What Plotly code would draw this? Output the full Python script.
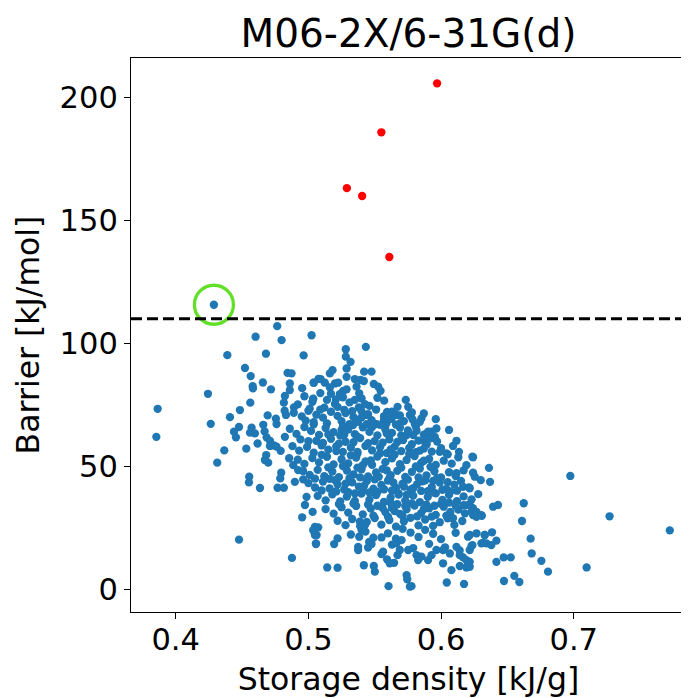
import plotly.graph_objects as go

title_text = "M06-2X/6-31G(d)"
x_label = "Storage density [kJ/g]"
y_label = "Barrier [kJ/mol]"
x_ticks = [0.4, 0.5, 0.6, 0.7]
y_ticks = [0, 50, 100, 150, 200]
threshold_barrier = 110

# points above the threshold (red)
red_density = [0.597, 0.555, 0.529, 0.5405, 0.561]
red_barrier = [205.7, 185.8, 163.1, 159.9, 135.1]

# highlighted point (circled)
highlight_density = 0.4288
highlight_barrier = 115.7

# blue points: (storage density, barrier)
blue_sparse = [
    (0.4288, 115.7), (0.4765, 107.0), (0.4602, 102.7), (0.4798, 101.3), (0.5024, 103.3),
    (0.4389, 95.2), (0.468, 95.8), (0.4964, 95.1), (0.4522, 90.0), (0.4565, 86.7),
    (0.4843, 88.0), (0.4873, 87.8), (0.4657, 84.1), (0.458, 82.6), (0.4582, 81.7),
    (0.4718, 81.3), (0.486, 83.7), (0.486, 81.0), (0.4953, 81.8), (0.5039, 84.0),
    (0.5077, 85.6), (0.4243, 79.5), (0.4823, 78.6), (0.4815, 75.9), (0.5036, 77.5),
    (0.3864, 73.4), (0.4562, 75.9), (0.4484, 72.9), (0.4409, 70.0), (0.4264, 67.3),
    (0.3854, 62.0), (0.4693, 70.7), (0.4891, 74.0), (0.4821, 72.6), (0.4831, 70.9),
    (0.4755, 69.4), (0.476, 67.2), (0.466, 66.9), (0.4477, 66.0), (0.4439, 64.1),
    (0.4454, 61.8), (0.4572, 65.7), (0.456, 63.7), (0.4597, 63.4), (0.467, 64.2),
    (0.4685, 61.8), (0.471, 60.4), (0.4617, 59.3), (0.4532, 57.2), (0.4366, 56.5),
    (0.474, 58.5), (0.4791, 56.3), (0.4823, 62.0), (0.4313, 51.5), (0.4682, 54.6),
    (0.4672, 52.6), (0.4697, 51.5), (0.4554, 45.8), (0.4552, 43.5), (0.4635, 41.2),
    (0.4768, 41.3), (0.4815, 41.3), (0.4795, 47.4), (0.4788, 45.1), (0.4898, 43.7),
    (0.4961, 44.7), (0.4855, 53.3), (0.4886, 50.5), (0.4923, 48.5), (0.4986, 37.6),
    (0.4974, 34.3), (0.5032, 31.5), (0.4953, 29.3), (0.5049, 25.4), (0.5044, 23.4),
    (0.5062, 22.1), (0.5057, 18.4), (0.4477, 20.2), (0.4876, 12.8), (0.471, 58.3),
    (0.476, 58.0),
]

blue_upper = [
    (0.5433, 98.6), (0.5282, 97.6), (0.5282, 94.6), (0.5318, 92.5), (0.5288, 89.8),
    (0.5182, 89.1), (0.5162, 87.8), (0.542, 88.5), (0.5476, 88.5), (0.5288, 86.4),
    (0.5092, 85.5), (0.5041, 84.0), (0.5124, 84.0), (0.52, 83.7), (0.5162, 82.1),
    (0.5224, 84.0), (0.535, 85.5), (0.5393, 85.1), (0.5418, 84.7), (0.5493, 83.5),
    (0.5526, 82.4), (0.5544, 80.7), (0.5363, 82.4), (0.5383, 79.7), (0.5401, 77.6),
    (0.5426, 75.3), (0.5262, 80.7), (0.5288, 81.3), (0.5237, 79.4), (0.5207, 77.2),
    (0.5036, 77.4), (0.5571, 76.7), (0.5734, 77.0), (0.5672, 74.2), (0.5752, 74.2),
    (0.5593, 72.1), (0.5765, 70.9), (0.5785, 69.1), (0.5802, 67.2), (0.587, 71.5),
    (0.5852, 69.5), (0.584, 68.1), (0.596, 69.2), (0.606, 64.8), (0.5965, 65.4),
    (0.5928, 64.1), (0.5902, 64.1), (0.6116, 60.4), (0.609, 58.3), (0.5953, 62.0),
    (0.5877, 60.0), (0.589, 59.1), (0.6135, 55.9), (0.6236, 53.9), (0.604, 55.3),
    (0.599, 55.9), (0.5664, 70.9), (0.5626, 69.3), (0.5589, 67.5), (0.5815, 64.5),
    (0.579, 62.7), (0.5689, 67.5), (0.574, 62.7), (0.5714, 60.7), (0.5438, 70.9),
    (0.5401, 69.9), (0.5476, 68.8), (0.5514, 67.2), (0.5569, 68.8), (0.5375, 68.1),
    (0.5337, 66.8), (0.5288, 65.0), (0.525, 64.8),
]

blue_lower = [
    (0.5142, 8.9), (0.5220, 8.8), (0.5418, 9.8), (0.5493, 9.5), (0.5501, 7.2),
    (0.5604, 1.3), (0.574, 5.8), (0.5745, 4.1), (0.5765, 1.1), (0.5777, 1.3),
    (0.6043, 2.8), (0.6173, 2.2), (0.6078, 7.8), (0.6015, 10.6), (0.6141, 9.5),
    (0.6191, 8.9), (0.6203, 11.2), (0.6166, 13.0), (0.5057, 18.7), (0.5049, 22.1),
    (0.5036, 24.1), (0.5074, 25.2), (0.5194, 18.4), (0.5220, 20.7), (0.5383, 21.4),
    (0.5375, 17.3), (0.5375, 16.0), (0.5401, 24.1), (0.5426, 26.1), (0.5388, 27.5),
    (0.5458, 19.3), (0.5476, 18.4), (0.5551, 21.1), (0.5563, 15.3), (0.5551, 14.3),
    (0.5593, 12.2), (0.5613, 10.6), (0.5646, 10.8), (0.5672, 13.9), (0.5689, 16.0),
    (0.5702, 20.0), (0.5664, 18.7), (0.5752, 16.0), (0.5815, 13.9), (0.5827, 11.9),
    (0.5852, 13.3), (0.5902, 11.9), (0.5928, 13.9), (0.5965, 16.0), (0.6015, 16.0),
    (0.6066, 14.6), (0.6116, 17.3), (0.6141, 13.9), (0.6191, 11.9), (0.6216, 16.0),
    (0.6203, 21.4), (0.6229, 17.6), (0.6304, 18.7), (0.6342, 18.7), (0.6329, 22.1),
    (0.6267, 22.8),
]

blue_right = [
    (0.6241, 53.7), (0.6361, 49.4), (0.6241, 47.4), (0.6254, 45.8), (0.6299, 44.4),
    (0.6369, 43.7), (0.6974, 46.1), (0.6216, 41.1), (0.6392, 33.6), (0.6429, 34.3),
    (0.6623, 35.0), (0.661, 27.8), (0.6216, 34.3), (0.6229, 31.5), (0.6241, 30.2),
    (0.6267, 29.5), (0.6307, 29.9), (0.727, 29.7), (0.7724, 24.0), (0.6216, 22.1),
    (0.6236, 18.0), (0.6329, 22.1), (0.6384, 23.2), (0.6316, 18.9), (0.6379, 18.0),
    (0.6417, 19.8), (0.6675, 20.6), (0.6683, 14.6), (0.6756, 11.6), (0.6806, 7.2),
    (0.6472, 13.0), (0.6525, 13.0), (0.6417, 11.2), (0.6474, 3.4), (0.6552, 5.5),
    (0.659, 3.0), (0.7097, 8.9), (0.6216, 11.2), (0.6216, 9.2), (0.6191, 50.5),
    (0.6116, 47.2), (0.6166, 41.7), (0.6203, 34.3), (0.6267, 31.5), (0.6304, 30.2),
]

blue_core = [
    (0.497, 78.5), (0.503, 76.2), (0.509, 79.8), (0.514, 77.0), (0.520, 75.4),
    (0.526, 78.1), (0.531, 76.0), (0.546, 74.6), (0.552, 77.9), (0.501, 73.5),
    (0.512, 73.9), (0.527, 73.0), (0.533, 72.4), (0.538, 74.0), (0.492, 75.2),
    (0.489, 71.8), (0.495, 70.3), (0.500, 72.6), (0.506, 71.0), (0.511, 69.8),
    (0.517, 72.2), (0.522, 70.5), (0.528, 71.7), (0.534, 70.0), (0.540, 72.5),
    (0.545, 71.2), (0.551, 73.1), (0.557, 70.4), (0.563, 72.2), (0.569, 70.7),
    (0.498, 68.6), (0.504, 68.0), (0.514, 67.5), (0.525, 68.4), (0.531, 67.2),
    (0.537, 68.9), (0.548, 68.0), (0.554, 66.9), (0.560, 69.5), (0.572, 68.4),
    (0.578, 71.9),
    (0.486, 65.3), (0.491, 63.2), (0.497, 66.0), (0.502, 64.4), (0.508, 62.8),
    (0.513, 65.6), (0.519, 63.9), (0.524, 62.5), (0.530, 65.0), (0.535, 63.1),
    (0.541, 65.9), (0.546, 64.0), (0.552, 62.6), (0.558, 65.1), (0.563, 63.6),
    (0.569, 65.8), (0.575, 64.6), (0.581, 66.2), (0.587, 62.9), (0.592, 61.4),
    (0.494, 61.0), (0.506, 60.4), (0.517, 61.2), (0.528, 60.0), (0.539, 61.5),
    (0.550, 60.3), (0.561, 61.0), (0.572, 61.9), (0.583, 60.5), (0.597, 60.1),
    (0.488, 58.2), (0.493, 56.4), (0.499, 57.9), (0.504, 55.6), (0.510, 58.5),
    (0.515, 56.8), (0.521, 58.1), (0.526, 55.9), (0.532, 57.6), (0.537, 55.2),
    (0.543, 58.3), (0.548, 56.5), (0.554, 57.8), (0.559, 55.4), (0.565, 58.0),
    (0.570, 56.2), (0.576, 57.5), (0.581, 55.8), (0.587, 57.2), (0.593, 56.0),
    (0.600, 57.4), (0.605, 54.9),
    (0.492, 52.7), (0.497, 51.0), (0.503, 53.4), (0.508, 51.6), (0.514, 53.9),
    (0.519, 50.8), (0.525, 52.9), (0.530, 51.2), (0.536, 53.6), (0.541, 50.5),
    (0.547, 52.4), (0.552, 54.0), (0.558, 51.7), (0.563, 53.3), (0.569, 50.9),
    (0.574, 52.6), (0.580, 54.2), (0.585, 51.4), (0.591, 53.0), (0.596, 50.6),
    (0.602, 52.3), (0.608, 51.1), (0.613, 53.7),
    (0.496, 48.1), (0.501, 46.5), (0.507, 48.6), (0.512, 46.0), (0.518, 47.9),
    (0.523, 45.6), (0.529, 48.3), (0.534, 46.7), (0.540, 48.8), (0.545, 45.9),
    (0.551, 47.5), (0.556, 49.0), (0.562, 46.4), (0.567, 48.2), (0.573, 45.7),
    (0.578, 47.8), (0.584, 49.1), (0.589, 46.3), (0.595, 48.0), (0.600, 45.5),
    (0.606, 47.6), (0.611, 46.1), (0.617, 48.4),
    (0.500, 43.2), (0.505, 41.4), (0.511, 43.8), (0.516, 41.0), (0.522, 42.7),
    (0.527, 40.6), (0.533, 43.5), (0.538, 41.8), (0.544, 44.0), (0.549, 40.9),
    (0.555, 42.5), (0.560, 44.2), (0.566, 41.3), (0.571, 43.0), (0.577, 40.5),
    (0.582, 42.8), (0.588, 44.3), (0.593, 41.6), (0.599, 43.4), (0.604, 40.8),
    (0.610, 42.6), (0.615, 44.1), (0.621, 41.5),
    (0.507, 38.0), (0.513, 36.2), (0.518, 38.6), (0.524, 35.8), (0.529, 37.7),
    (0.535, 36.0), (0.540, 38.9), (0.546, 36.5), (0.551, 38.3), (0.557, 35.6),
    (0.562, 37.4), (0.568, 39.0), (0.573, 36.1), (0.579, 38.1), (0.584, 35.5),
    (0.590, 37.6), (0.595, 39.2), (0.601, 36.4), (0.606, 38.4), (0.612, 35.9),
    (0.617, 37.8), (0.623, 36.6), (0.628, 38.7),
    (0.513, 32.6), (0.519, 30.8), (0.525, 33.4), (0.530, 31.2), (0.536, 33.9),
    (0.541, 30.5), (0.547, 32.8), (0.552, 34.0), (0.558, 31.4), (0.563, 33.2),
    (0.569, 30.7), (0.574, 32.5), (0.580, 34.1), (0.585, 31.0), (0.591, 32.9),
    (0.596, 30.3), (0.602, 33.6), (0.607, 31.5), (0.613, 32.4), (0.618, 30.9),
    (0.624, 33.0),
    (0.522, 27.9), (0.528, 26.1), (0.533, 28.6), (0.539, 25.7), (0.544, 27.4),
    (0.550, 29.0), (0.555, 26.3), (0.561, 28.2), (0.566, 25.5), (0.572, 27.7),
    (0.577, 29.1), (0.583, 26.0), (0.588, 28.4), (0.594, 25.8), (0.599, 27.3),
    (0.605, 28.9), (0.610, 26.2), (0.616, 27.8),
    (0.532, 22.3), (0.543, 23.5), (0.549, 21.0), (0.560, 22.8), (0.566, 20.6),
    (0.577, 23.1), (0.583, 21.3), (0.594, 22.6), (0.600, 20.4), (0.611, 23.0),
    (0.588, 24.2), (0.571, 24.6),
    (0.545, 17.0), (0.563, 18.2), (0.579, 16.8), (0.591, 18.5), (0.603, 17.1),
    (0.614, 15.8),
    (0.504, 67.1), (0.515, 63.0), (0.526, 66.4), (0.537, 62.1), (0.548, 66.0),
    (0.559, 63.4), (0.570, 62.6), (0.510, 54.7), (0.521, 56.2), (0.532, 54.5),
    (0.543, 52.0), (0.554, 55.3), (0.565, 54.8), (0.576, 55.0), (0.587, 52.3),
    (0.515, 49.6), (0.526, 50.1), (0.537, 49.5), (0.548, 50.6), (0.559, 48.4),
    (0.570, 49.5), (0.581, 50.0), (0.592, 49.8), (0.520, 44.4), (0.531, 45.2),
    (0.542, 42.1), (0.553, 45.8), (0.564, 43.5), (0.575, 44.6), (0.586, 43.9),
    (0.597, 45.2), (0.530, 39.5), (0.541, 40.1), (0.552, 39.6), (0.563, 40.2),
    (0.574, 38.4), (0.585, 40.0), (0.596, 39.0), (0.607, 39.8), (0.545, 34.5),
    (0.556, 33.0), (0.567, 34.6), (0.578, 34.9), (0.589, 34.4), (0.600, 34.8),
    (0.611, 34.0), (0.560, 29.5), (0.571, 29.9), (0.582, 29.7), (0.593, 29.6),
    (0.604, 30.0),
    (0.500, 60.2), (0.511, 59.5), (0.523, 59.2), (0.534, 59.8), (0.545, 59.4),
    (0.556, 59.6), (0.567, 59.9), (0.578, 59.0), (0.589, 58.8), (0.505, 45.0),
    (0.516, 44.9), (0.528, 43.0), (0.539, 45.5), (0.550, 44.7), (0.561, 45.1),
    (0.572, 41.8), (0.583, 45.5), (0.594, 44.1), (0.605, 43.6), (0.510, 40.2),
    (0.521, 39.8), (0.535, 39.0), (0.546, 39.4), (0.557, 40.7), (0.568, 38.5),
    (0.579, 41.1), (0.590, 39.9), (0.601, 40.5), (0.612, 40.1), (0.523, 34.7),
    (0.534, 34.9), (0.562, 35.2), (0.573, 33.9), (0.595, 34.0), (0.606, 35.3),
    (0.617, 34.2), (0.549, 30.0), (0.565, 31.8), (0.587, 32.6), (0.609, 28.9),
    (0.537, 55.9), (0.562, 56.9), (0.584, 56.4), (0.527, 62.9), (0.544, 67.2),
    (0.566, 67.0), (0.509, 73.1), (0.522, 74.2), (0.535, 77.0), (0.517, 79.5),
]

blue_all = blue_sparse + blue_upper + blue_core + blue_lower + blue_right
blue_density = [p[0] for p in blue_all]
blue_barrier = [p[1] for p in blue_all]

BLUE = "#1f77b4"
RED = "#ff0000"
GREEN = "rgb(98,224,40)"
FONT = "DejaVu Sans"
DOT = 8.3

fig = go.Figure()
fig.add_trace(go.Scatter(
    x=blue_density, y=blue_barrier, mode="markers",
    marker=dict(color=BLUE, size=DOT, line=dict(width=0)),
    showlegend=False, hoverinfo="skip",
))
fig.add_trace(go.Scatter(
    x=red_density, y=red_barrier, mode="markers",
    marker=dict(color=RED, size=DOT, line=dict(width=0)),
    showlegend=False, hoverinfo="skip",
))
fig.add_trace(go.Scatter(
    x=[highlight_density], y=[highlight_barrier], mode="markers",
    marker=dict(symbol="circle-open", size=39, color=GREEN, line=dict(width=3.3, color=GREEN)),
    showlegend=False, hoverinfo="skip",
))
fig.add_hline(y=threshold_barrier, line=dict(color="black", width=2.8, dash="11px,5px"))

axis_common = dict(
    showline=True, linecolor="black", linewidth=1.2, mirror=True,
    ticks="outside", ticklen=6, tickwidth=1.2, tickcolor="black",
    showgrid=False, zeroline=False,
    tickfont=dict(family=FONT, size=30.5, color="black"),
)

# the page body adds an 8px offset, so the figure is 8px smaller than the window
fig.update_layout(
    width=681, height=690,
    margin=dict(l=123, r=3, t=50, b=86),
    paper_bgcolor="white", plot_bgcolor="white",
    font=dict(family=FONT, color="black"),
    title=dict(text=title_text, x=0.5, xref="paper", xanchor="center",
               y=1, yref="paper", yanchor="bottom", pad=dict(b=11),
               font=dict(family=FONT, size=39, color="black")),
    xaxis=dict(range=[0.3663, 0.7846], tickvals=x_ticks,
               ticktext=[f"{v:.1f}" for v in x_ticks],
               ticklabelstandoff=-6,
               title=dict(text=x_label, standoff=12, font=dict(family=FONT, size=31.5, color="black")),
               **axis_common),
    yaxis=dict(range=[-9.2, 216.0], tickvals=y_ticks,
               ticktext=[str(v) for v in y_ticks],
               title=dict(text=y_label, standoff=10, font=dict(family=FONT, size=31.5, color="black")),
               **axis_common),
)

fig.write_html("out.html")
